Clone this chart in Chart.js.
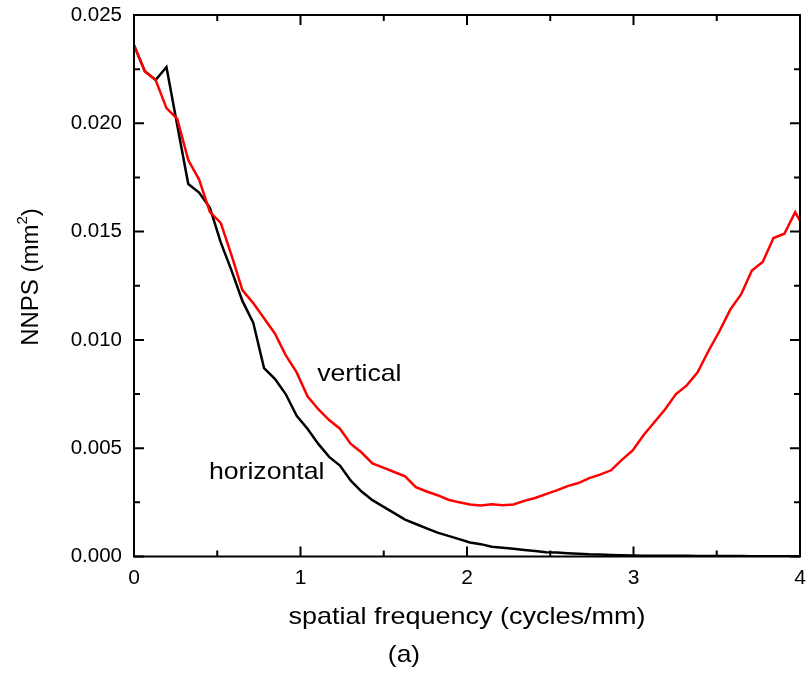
<!DOCTYPE html>
<html>
<head>
<meta charset="utf-8">
<script src="https://cdn.jsdelivr.net/npm/chart.js@4/dist/chart.umd.min.js"></script>
<style>
  html, body { margin: 0; padding: 0; background: #fff; }
  #wrap { width: 810px; height: 673px; position: relative; }
</style>
</head>
<body>
<div id="wrap"><canvas id="c" width="810" height="673"></canvas></div>
<script>
// Spatial frequency samples (cycles/mm)
const frequency = [
  0.000, 0.065, 0.130, 0.195, 0.260, 0.326, 0.391, 0.456, 0.521, 0.586,
  0.651, 0.716, 0.781, 0.846, 0.911, 0.977, 1.042, 1.107, 1.172, 1.237,
  1.302, 1.367, 1.432, 1.497, 1.563, 1.628, 1.693, 1.758, 1.823, 1.888,
  1.953, 2.018, 2.083, 2.148, 2.214, 2.279, 2.344, 2.409, 2.474, 2.539,
  2.604, 2.669, 2.734, 2.799, 2.865, 2.930, 2.995, 3.060, 3.125, 3.190,
  3.255, 3.320, 3.385, 3.451, 3.516, 3.581, 3.646, 3.711, 3.776, 3.841,
  3.906, 3.971, 4.036
];

// NNPS along the vertical direction (mm^2)
const vertical = [
  0.0236, 0.0224, 0.0220, 0.0207, 0.0202, 0.0183, 0.0174, 0.0159, 0.0154, 0.0139,
  0.0123, 0.0117, 0.0110, 0.0103, 0.0093, 0.0085, 0.0074, 0.0068, 0.0063, 0.0059,
  0.0052, 0.0048, 0.0043, 0.0041, 0.0039, 0.0037, 0.0032, 0.0030, 0.00283, 0.00262,
  0.0025, 0.0024, 0.00236, 0.00241, 0.00237, 0.0024, 0.00257, 0.0027, 0.00288, 0.00305,
  0.00325, 0.00339, 0.00362, 0.00378, 0.00398, 0.00446, 0.0049, 0.0056, 0.0062, 0.0068,
  0.0075, 0.0079, 0.0085, 0.0095, 0.0104, 0.0114, 0.0121, 0.0132, 0.0136, 0.0147,
  0.0149, 0.0159, 0.0150
];

// NNPS along the horizontal direction (mm^2)
const horizontal = [
  0.0236, 0.0224, 0.0220, 0.0226, 0.0199, 0.0172, 0.0168, 0.0161, 0.0145, 0.0132,
  0.0118, 0.0108, 0.0087, 0.0082, 0.0075, 0.0065, 0.0059, 0.0052, 0.0046, 0.0042,
  0.0035, 0.0030, 0.0026, 0.0023, 0.0020, 0.0017, 0.0015, 0.0013, 0.0011, 0.00095,
  0.0008, 0.00065, 0.00057, 0.00045, 0.0004, 0.00036, 0.0003, 0.00025, 0.0002, 0.00018,
  0.00015, 0.00013, 0.0001, 0.00009, 0.00007, 0.00006, 0.00005, 0.00004, 0.00004, 0.00003,
  0.00003, 0.00003, 0.00002, 0.00002, 0.00002, 0.00002, 0.00002, 0.00001, 0.00001, 0.00001,
  0.00001, 0.00001, 0.00001
];

// Axis ticks
const xMajorTicks = [0, 1, 2, 3, 4];
const xMinorTicks = [0.5, 1.5, 2.5, 3.5];
const yMajorTicks = [0, 0.005, 0.010, 0.015, 0.020, 0.025];
const yMinorTicks = [0.0025, 0.0075, 0.0125, 0.0175, 0.0225];

// Curve annotations: [text, x, y] in data units
const curveLabels = [
  ['vertical', 1.1, 0.0084],
  ['horizontal', 0.45, 0.0039]
];

const FONT = '"Liberation Sans", Arial, Helvetica, sans-serif';

function textScaled(ctx, str, x, y, size, sx, align) {
  ctx.save();
  ctx.font = size + 'px ' + FONT;
  ctx.textAlign = align || 'left';
  ctx.translate(x, y);
  ctx.scale(sx, 1);
  ctx.fillText(str, 0, 0);
  ctx.restore();
}

const framePlugin = {
  id: 'frame',
  afterDatasetsDraw(chart) {
    const ctx = chart.ctx;
    const a = chart.chartArea;
    const xs = chart.scales.x, ys = chart.scales.y;
    ctx.save();
    ctx.strokeStyle = '#000';
    ctx.fillStyle = '#000';
    ctx.lineWidth = 2;
    ctx.strokeRect(a.left, a.top, a.right - a.left, a.bottom - a.top);

    const major = 10, minor = 6;
    ctx.beginPath();
    const xt = (v, len) => {
      const p = xs.getPixelForValue(v);
      ctx.moveTo(p, a.bottom); ctx.lineTo(p, a.bottom - len);
      ctx.moveTo(p, a.top); ctx.lineTo(p, a.top + len);
    };
    const yt = (v, len) => {
      const p = ys.getPixelForValue(v);
      ctx.moveTo(a.left, p); ctx.lineTo(a.left + len, p);
      ctx.moveTo(a.right, p); ctx.lineTo(a.right - len, p);
    };
    xMajorTicks.forEach(v => xt(v, major));
    xMinorTicks.forEach(v => xt(v, minor));
    yMajorTicks.forEach(v => yt(v, major));
    yMinorTicks.forEach(v => yt(v, minor));
    ctx.stroke();

    // tick labels
    ctx.textBaseline = 'middle';
    yMajorTicks.forEach(v => {
      textScaled(ctx, v.toFixed(3), a.left - 12, ys.getPixelForValue(v), 20.5, 1, 'right');
    });
    xMajorTicks.forEach(v => {
      textScaled(ctx, String(v), xs.getPixelForValue(v), a.bottom + 22, 21, 1, 'center');
    });

    // axis titles
    textScaled(ctx, 'spatial frequency (cycles/mm)', 467, 617, 24, 1.125, 'center');
    textScaled(ctx, '(a)', 404, 655, 24, 1.1, 'center');

    // y title with superscript
    ctx.save();
    ctx.translate(30, 277);
    ctx.rotate(-Math.PI / 2);
    ctx.textBaseline = 'alphabetic';
    const main = 'NNPS (mm';
    const sup = '2';
    ctx.font = '24px ' + FONT;
    const wMain = ctx.measureText(main).width;
    ctx.font = '15px ' + FONT;
    const wSup = ctx.measureText(sup).width;
    ctx.font = '24px ' + FONT;
    const wClose = ctx.measureText(')').width;
    const total = wMain + wSup + wClose;
    const x0 = -total / 2;
    ctx.textAlign = 'left';
    ctx.fillText(main, x0, 8);
    ctx.font = '15px ' + FONT;
    ctx.fillText(sup, x0 + wMain, -3);
    ctx.font = '24px ' + FONT;
    ctx.fillText(')', x0 + wMain + wSup, 8);
    ctx.restore();

    // curve annotations
    ctx.textBaseline = 'middle';
    curveLabels.forEach(([t, x, y]) => {
      textScaled(ctx, t, xs.getPixelForValue(x), ys.getPixelForValue(y), 24, 1.11, 'left');
    });
    ctx.restore();
  }
};

const toPoints = arr => frequency.map((f, i) => ({ x: f, y: arr[i] }));

new Chart(document.getElementById('c'), {
  type: 'line',
  data: {
    datasets: [
      { label: 'vertical', data: toPoints(vertical), borderColor: '#ff0000',
        borderWidth: 2.5, pointRadius: 0, tension: 0, clip: 0, fill: false },
      { label: 'horizontal', data: toPoints(horizontal), borderColor: '#000000',
        borderWidth: 2.5, pointRadius: 0, tension: 0, clip: 0, fill: false }
    ]
  },
  options: {
    responsive: false,
    animation: false,
    layout: { padding: { left: 134, right: 10, top: 15, bottom: 116.5 } },
    scales: {
      x: { type: 'linear', min: 0, max: 4, display: false },
      y: { type: 'linear', min: 0, max: 0.025, display: false }
    },
    plugins: { legend: { display: false }, tooltip: { enabled: false } }
  },
  plugins: [framePlugin]
});
</script>
</body>
</html>
